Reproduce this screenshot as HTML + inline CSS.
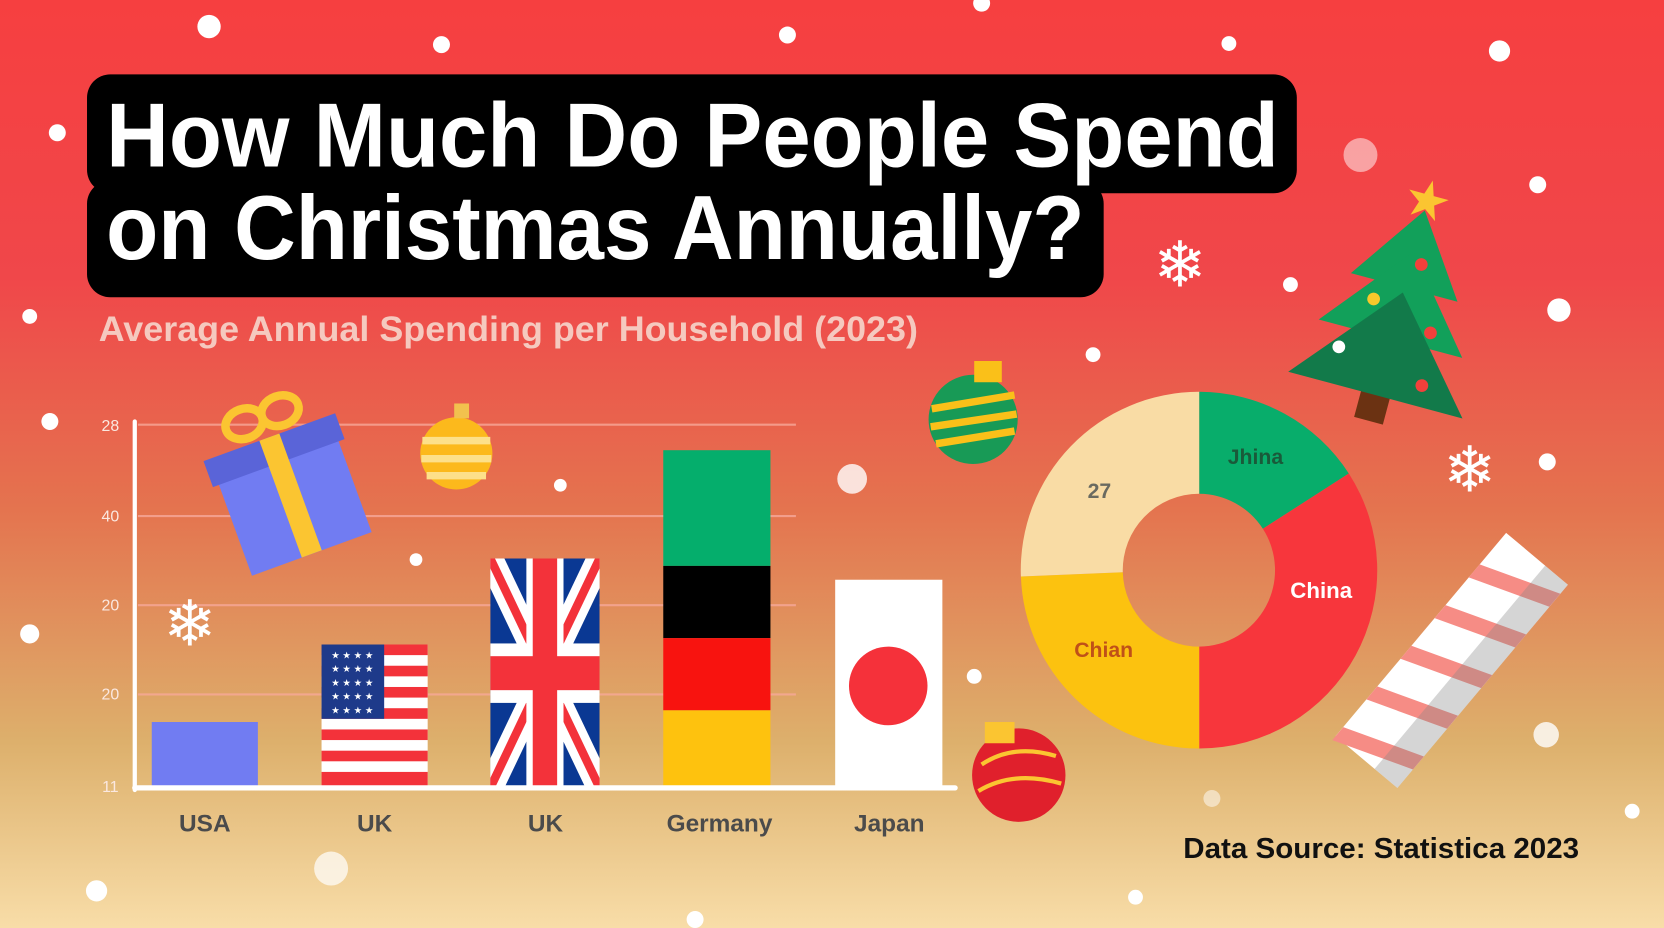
<!DOCTYPE html>
<html><head><meta charset="utf-8"><style>html,body{margin:0;padding:0;overflow:hidden}svg{display:block}</style></head>
<body>
<svg width="1664" height="928" viewBox="0 0 1568 874" preserveAspectRatio="none" xmlns="http://www.w3.org/2000/svg" font-family="Liberation Sans, sans-serif">
<defs>
<linearGradient id="bg" x1="0" y1="0" x2="0" y2="1">
<stop offset="0" stop-color="#f63f40"/>
<stop offset="0.3" stop-color="#f0474a"/>
<stop offset="0.55" stop-color="#e4744f"/>
<stop offset="0.8" stop-color="#ddb06c"/>
<stop offset="1" stop-color="#f8dda8"/>
</linearGradient>
<clipPath id="uk"><rect x="462" y="526" width="103" height="216"/></clipPath>
</defs>
<rect width="1568" height="874" fill="url(#bg)"/>
<g fill="#fff">
<circle cx="197" cy="25" r="11"/><circle cx="416" cy="42" r="8"/><circle cx="742" cy="33" r="8"/><circle cx="925" cy="3" r="8"/><circle cx="1158" cy="41" r="7"/><circle cx="1413" cy="48" r="10"/><circle cx="54" cy="125" r="8"/><circle cx="1449" cy="174" r="8"/><circle cx="1216" cy="268" r="7"/><circle cx="1469" cy="292" r="11"/><circle cx="28" cy="298" r="7"/><circle cx="1030" cy="334" r="7"/><circle cx="47" cy="397" r="8"/><circle cx="528" cy="457" r="6"/><circle cx="392" cy="527" r="6"/><circle cx="1458" cy="435" r="8"/><circle cx="28" cy="597" r="9"/><circle cx="918" cy="637" r="7"/><circle cx="1457" cy="692" r="12" opacity="0.8"/><circle cx="1538" cy="764" r="7"/><circle cx="91" cy="839" r="10"/><circle cx="1070" cy="845" r="7"/><circle cx="655" cy="866" r="8"/><circle cx="803" cy="451" r="14" opacity="0.8"/><circle cx="312" cy="818" r="16" opacity="0.7"/><circle cx="1282" cy="146" r="16" opacity="0.5"/><circle cx="1142" cy="752" r="8" opacity="0.5"/>
</g>
<rect x="82" y="70" width="1140" height="112" rx="22" fill="#000"/>
<rect x="82" y="170" width="958" height="110" rx="22" fill="#000"/>
<text x="100" y="157" font-size="86" font-weight="700" fill="#fff" textLength="1105" lengthAdjust="spacingAndGlyphs">How Much Do People Spend</text>
<text x="100" y="244" font-size="86" font-weight="700" fill="#fff" textLength="922" lengthAdjust="spacingAndGlyphs">on Christmas Annually?</text>
<text x="93" y="321" font-size="33" font-weight="700" fill="#f5c9bf" textLength="772" lengthAdjust="spacingAndGlyphs">Average Annual Spending per Household (2023)</text>
<g stroke="#f7a89a" stroke-width="2" opacity="0.8">
<line x1="130" y1="400" x2="750" y2="400"/><line x1="130" y1="486" x2="750" y2="486"/><line x1="130" y1="570" x2="750" y2="570"/><line x1="130" y1="654" x2="750" y2="654"/>
</g>
<g font-size="15" fill="#fbe8e0" text-anchor="middle">
<text x="104" y="406">28</text><text x="104" y="491">40</text><text x="104" y="575">20</text><text x="104" y="659">20</text><text x="104" y="746">11</text>
</g>
<rect x="143" y="680" width="100" height="62" fill="#717cf2"/>
<g>
<rect x="303" y="607" width="100" height="135" fill="#fff"/>
<g fill="#f3323a"><rect x="303" y="607" width="100" height="10"/><rect x="303" y="627" width="100" height="10"/><rect x="303" y="647" width="100" height="10"/><rect x="303" y="667" width="100" height="10"/><rect x="303" y="687" width="100" height="10"/><rect x="303" y="707" width="100" height="10"/><rect x="303" y="727" width="100" height="15"/></g>
<rect x="303" y="607" width="59" height="70" fill="#1e3a8a"/>
<g fill="#fff" font-size="9" text-anchor="middle">
<text x="332" y="620">★ ★ ★ ★</text><text x="332" y="633">★ ★ ★ ★</text><text x="332" y="646">★ ★ ★ ★</text><text x="332" y="659">★ ★ ★ ★</text><text x="332" y="672">★ ★ ★ ★</text></g>
</g>
<g clip-path="url(#uk)">
<rect x="462" y="526" width="103" height="216" fill="#0a3893"/>
<line x1="462" y1="526" x2="565" y2="742" stroke="#fff" stroke-width="24"/><line x1="565" y1="526" x2="462" y2="742" stroke="#fff" stroke-width="24"/>
<line x1="462" y1="526" x2="565" y2="742" stroke="#f3323a" stroke-width="8"/><line x1="565" y1="526" x2="462" y2="742" stroke="#f3323a" stroke-width="8"/>
<rect x="462" y="606" width="103" height="56" fill="#fff"/><rect x="496" y="526" width="35" height="216" fill="#fff"/>
<rect x="462" y="618" width="103" height="32" fill="#f3323a"/><rect x="502" y="526" width="23" height="216" fill="#f3323a"/>
</g>
<rect x="625" y="424" width="101" height="109" fill="#05ae6c"/>
<rect x="625" y="533" width="101" height="68" fill="#000"/>
<rect x="625" y="601" width="101" height="68" fill="#f8130f"/>
<rect x="625" y="669" width="101" height="73" fill="#fec20e"/>
<rect x="787" y="546" width="101" height="196" fill="#fff"/>
<ellipse cx="837" cy="646" rx="37" ry="37" fill="#f5313a"/>
<line x1="127" y1="397" x2="127" y2="744" stroke="#fff" stroke-width="4" stroke-linecap="round"/>
<line x1="127" y1="742" x2="900" y2="742" stroke="#fff" stroke-width="5" stroke-linecap="round"/>
<g font-size="23" font-weight="700" fill="#4b4b4b" text-anchor="middle">
<text x="193" y="783">USA</text><text x="353" y="783">UK</text><text x="514" y="783">UK</text><text x="678" y="783">Germany</text><text x="838" y="783">Japan</text>
</g>
<g transform="translate(275,470) rotate(-20)">
<rect x="-60" y="-45" width="120" height="100" fill="#717cf2"/>
<rect x="-66" y="-62" width="132" height="26" fill="#5a64d8"/>
<rect x="-10" y="-62" width="20" height="117" fill="#fbc531"/>
<ellipse cx="-18" cy="-82" rx="18" ry="14" fill="none" stroke="#fbc531" stroke-width="8"/>
<ellipse cx="18" cy="-82" rx="18" ry="14" fill="none" stroke="#fbc531" stroke-width="8"/>
</g>
<g><circle cx="430" cy="427" r="34" fill="#fcb91c"/><path d="M398 415 L462 415 M397 432 L463 432 M402 448 L458 448" stroke="#fde08a" stroke-width="7"/><rect x="428" y="380" width="14" height="14" fill="#f2c14e"/></g>
<g><circle cx="917" cy="395" r="42" fill="#189a56"/><path d="M878 385 L956 372 M877 402 L958 390 M882 418 L956 406" stroke="#fac019" stroke-width="7"/><rect x="918" y="340" width="26" height="20" fill="#fac019"/></g>
<g><circle cx="960" cy="730" r="44" fill="#e0202c"/><path d="M925 720 Q955 700 995 712 M922 745 Q955 725 1000 738" stroke="#fbc531" stroke-width="4" fill="none"/><rect x="928" y="680" width="28" height="20" fill="#fbc531"/></g>
<g fill="#fff" font-size="60" text-anchor="middle"><text x="179" y="608">❄</text><text x="1112" y="270">❄</text><text x="1385" y="463">❄</text></g>
<g transform="translate(1318,290) rotate(15)">
<rect x="-14" y="70" width="28" height="40" fill="#6b3212"/>
<polygon points="0,-95 52,-20 -52,-20" fill="#12a05a"/>
<polygon points="0,-55 70,30 -70,30" fill="#12a05a"/>
<polygon points="0,-15 85,85 -85,85" fill="#127a4a"/>
<circle cx="10" cy="-45" r="6" fill="#f2403b"/><circle cx="-25" cy="-2" r="6" fill="#f7c82b"/><circle cx="35" cy="15" r="6" fill="#f2403b"/><circle cx="-45" cy="50" r="6" fill="#fff"/><circle cx="40" cy="65" r="6" fill="#f2403b"/>
<text x="0" y="-88" font-size="50" text-anchor="middle" fill="#fbc531">★</text>
</g>
<g transform="translate(1130,537)">
<path d="M0,-168 A168,168 0 0 1 141,-91 L60,-39 A72,72 0 0 0 0,-72 Z" fill="#08ad6b"/>
<path d="M141,-91 A168,168 0 0 1 0,168 L0,72 A72,72 0 0 0 60,-39 Z" fill="#f7363c"/>
<path d="M0,168 A168,168 0 0 1 -168,6 L-72,2 A72,72 0 0 0 0,72 Z" fill="#fcc20f"/>
<path d="M-168,6 A168,168 0 0 1 0,-168 L0,-72 A72,72 0 0 0 -72,2 Z" fill="#f9dca5"/>
<text x="53" y="-100" font-size="20" font-weight="700" fill="#1a5a3a" text-anchor="middle">Jhina</text>
<text x="115" y="26" font-size="21" font-weight="700" fill="#fff" text-anchor="middle">China</text>
<text x="-90" y="82" font-size="20" font-weight="700" fill="#c05018" text-anchor="middle">Chian</text>
<text x="-94" y="-68" font-size="20" font-weight="700" fill="#6a6a60" text-anchor="middle">27</text>
</g>
<g transform="translate(1368,622) rotate(40)">
<rect x="-38" y="-125" width="76" height="250" fill="#fff"/>
<g fill="#f68c85"><rect x="-38" y="-100" width="76" height="16" transform="skewY(-20)"/><rect x="-38" y="-50" width="76" height="16" transform="skewY(-20)"/><rect x="-38" y="0" width="76" height="16" transform="skewY(-20)"/><rect x="-38" y="50" width="76" height="16" transform="skewY(-20)"/><rect x="-38" y="100" width="76" height="16" transform="skewY(-20)"/></g>
<rect x="10" y="-125" width="28" height="250" fill="#888" opacity="0.35"/>
</g>
<text x="1115" y="808" font-size="27" font-weight="700" fill="#111" textLength="373" lengthAdjust="spacingAndGlyphs">Data Source: Statistica 2023</text>
</svg>
</body></html>
